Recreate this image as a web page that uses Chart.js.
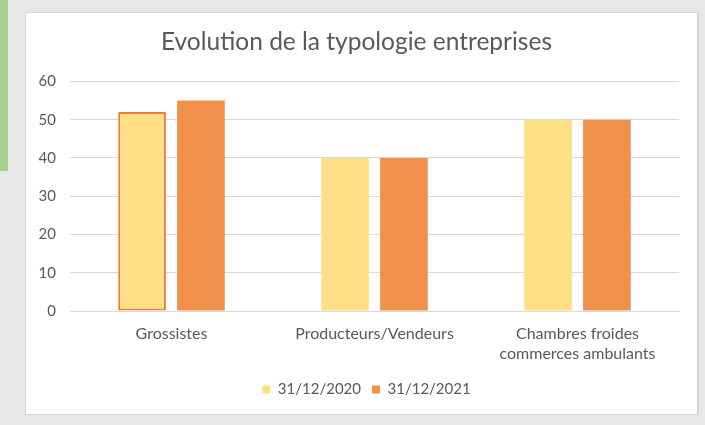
<!DOCTYPE html>
<html>
<head>
<meta charset="utf-8">
<script src="https://cdn.jsdelivr.net/npm/chart.js@4"></script>
<style>
  body { margin: 0; background: #e8e8e8; width: 705px; height: 425px; overflow: hidden; position: relative; }
  #strip { position: absolute; left: 0; top: 0; width: 8px; height: 171px; background: #a9d18e; }
  #card { position: absolute; left: 25px; top: 12px; width: 671px; height: 401px; background: #fff; border: 1px solid #d6d6d6; border-right-width: 2px; }
  #wrap { position: relative; width: 671px; height: 401px; }
</style>
</head>
<body>
<div id="strip"></div>
<div id="card"><div id="wrap"><canvas id="chart"></canvas></div></div>
<script>
const CATEGORIES = ['Grossistes', 'Producteurs/Vendeurs', ['Chambres froides', 'commerces ambulants']];
const SERIES_NAMES = ['31/12/2020', '31/12/2021'];
const VALUES_2020 = [52, 40, 50];
const VALUES_2021 = [55, 40, 50];
const Y_TICKS = [0, 10, 20, 30, 40, 50, 60];

const FONT = 'Lato, "Open Sans", sans-serif';
const TEXT = '#595959';
const GRID = '#d9d9d9';

// nudge title and legend a little to the right, like the Excel layout
const nudgeBoxes = {
    id: 'nudgeBoxes',
    afterLayout(chart) {
        const shift = (box, dx) => { if (box) { box.left += dx; box.right += dx; } };
        shift(chart.titleBlock, 4);
        shift(chart.legend, 14);
    }
};

new Chart(document.getElementById('chart'), {
    type: 'bar',
    data: {
        labels: CATEGORIES,
        datasets: [
            {
                label: SERIES_NAMES[0], data: VALUES_2020,
                backgroundColor: '#fedf86',
                borderColor: '#ed7d31', borderWidth: [2, 0, 0], borderSkipped: false
            },
            {
                label: SERIES_NAMES[1], data: VALUES_2021,
                backgroundColor: '#f0904a', borderWidth: 0
            }
        ]
    },
    options: {
        responsive: true, maintainAspectRatio: false, animation: false,
        categoryPercentage: 0.58, barPercentage: 0.81,
        layout: { padding: { left: 0, right: 18, top: 0, bottom: 7 } },
        plugins: {
            title: {
                display: true, text: 'Evolution de la typologie entreprises',
                color: TEXT, font: { family: FONT, size: 24.5, weight: 'normal' },
                padding: { top: 14, bottom: 25 }
            },
            legend: {
                position: 'bottom',
                labels: {
                    color: TEXT, font: { family: FONT, size: 15 }, boxWidth: 8, boxHeight: 8, padding: 11,
                    generateLabels: chart => Chart.defaults.plugins.legend.labels.generateLabels(chart)
                        .map(item => ({ ...item, lineWidth: 0, strokeStyle: 'rgba(0,0,0,0)' }))
                }
            },
            tooltip: { enabled: false }
        },
        scales: {
            x: {
                grid: { display: false },
                border: { color: GRID, width: 1 },
                ticks: { color: TEXT, font: { family: FONT, size: 16, lineHeight: 1.3 }, padding: 4, maxRotation: 0, autoSkip: false },
                afterFit: scale => { scale.height += 2.4; }
            },
            y: {
                min: Y_TICKS[0], max: Y_TICKS[Y_TICKS.length - 1],
                afterBuildTicks: axis => { axis.ticks = Y_TICKS.map(v => ({ value: v })); },
                grid: { color: GRID, lineWidth: 1, drawTicks: false },
                border: { display: false },
                ticks: { color: TEXT, font: { family: FONT, size: 15 }, padding: 14 },
                afterFit: scale => { scale.width = 44; }
            }
        }
    },
    plugins: [nudgeBoxes]
});
</script>
</body>
</html>
